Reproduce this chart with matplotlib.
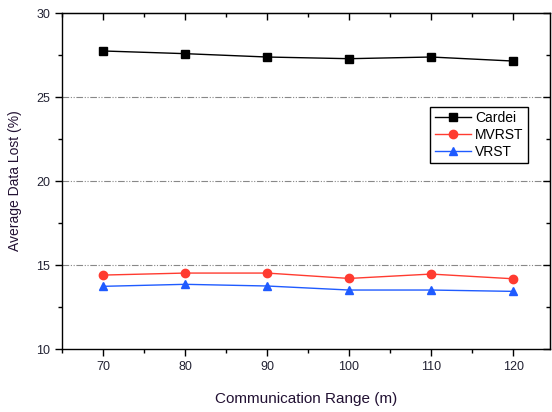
import matplotlib
matplotlib.use('Agg')
import matplotlib.pyplot as plt
from matplotlib.ticker import MultipleLocator

plt.rcParams['font.family'] = ['Liberation Sans', 'DejaVu Sans']

# data
ranges = [70, 80, 90, 100, 110, 120]
cardei = [27.74, 27.58, 27.38, 27.28, 27.38, 27.14]
mvrst = [14.40, 14.52, 14.52, 14.20, 14.46, 14.18]
vrst = [13.73, 13.85, 13.75, 13.51, 13.51, 13.43]

fig = plt.figure(figsize=(5.52, 4.12), dpi=100)
ax = fig.add_axes([62 / 552, 1 - 349 / 412, (550 - 62) / 552, (349 - 13) / 412])

ax.plot(ranges, cardei, color='black', marker='s', markersize=6, linewidth=1, label='Cardei')
ax.plot(ranges, mvrst, color='#ff3b30', marker='o', markersize=6, linewidth=1, label='MVRST')
ax.plot(ranges, vrst, color='#1f5bff', marker='^', markersize=6, linewidth=1, label='VRST')

ax.set_xlim(65, 124.5)
ax.set_ylim(10, 30)
ax.set_xticks(ranges)
ax.xaxis.set_minor_locator(MultipleLocator(5))
ax.yaxis.set_major_locator(MultipleLocator(5))
ax.yaxis.set_minor_locator(MultipleLocator(2.5))

# dash-dot-dot gray grid
for y in [15, 20, 25]:
    ax.axhline(y, color='#888888', linewidth=0.8, dashes=[6, 1.5, 1, 1.5, 1, 1.5], zorder=0)

ax.tick_params(which='both', direction='out', top=False, right=False, labelsize=9, colors='#222233')
ax.tick_params(which='major', length=5, width=1)
ax.tick_params(which='minor', length=3, width=1)
ax.tick_params(axis='both', which='both', color='black')

# inward ticks on top and right
ax2 = ax.secondary_xaxis('top')
ax2.set_xticks(ranges)
ax2.xaxis.set_minor_locator(MultipleLocator(5))
ax2.tick_params(which='both', direction='in', labeltop=False)
ax2.tick_params(which='major', length=5, width=1)
ax2.tick_params(which='minor', length=3, width=1)
ax3 = ax.secondary_yaxis('right')
ax3.yaxis.set_major_locator(MultipleLocator(5))
ax3.yaxis.set_minor_locator(MultipleLocator(2.5))
ax3.tick_params(which='both', direction='in', labelright=False)
ax3.tick_params(which='major', length=5, width=1)
ax3.tick_params(which='minor', length=3, width=1)

for s in ax.spines.values():
    s.set_linewidth(1)

ax.set_xlabel('Communication Range (m)', fontsize=11, color='#221133', labelpad=14)
ax.set_ylabel('Average Data Lost (%)', fontsize=10, color='#221133', labelpad=10)

leg = ax.legend(loc='upper left', bbox_to_anchor=(0.755, 0.72), fontsize=10, fancybox=False,
                edgecolor='black', framealpha=1, borderpad=0.3, labelspacing=0.2,
                handlelength=2.6, handletextpad=0.3, borderaxespad=0)
leg.get_frame().set_linewidth(1)

plt.savefig('out.png', dpi=100)
